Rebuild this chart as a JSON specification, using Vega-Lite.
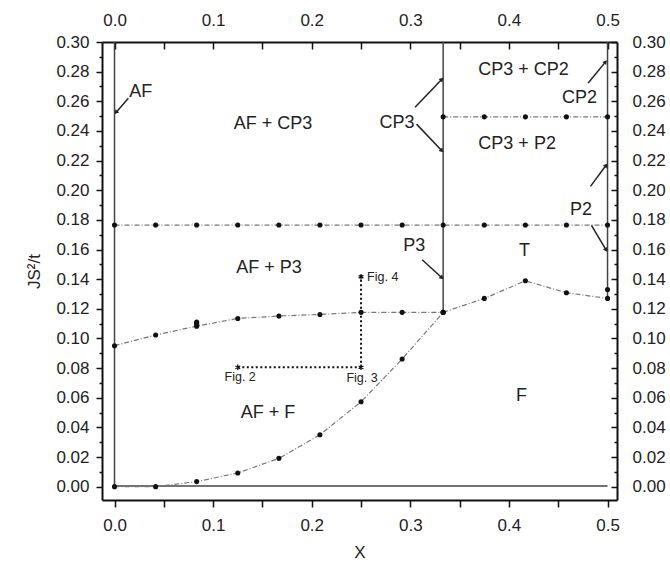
{
  "$schema": "https://vega.github.io/schema/vega-lite/v6.json",
  "width": 515,
  "height": 458,
  "autosize": "none",
  "padding": {"left": 102, "top": 42, "right": 53, "bottom": 64},
  "background": "white",
  "config": {
    "view": {"stroke": null},
    "font": "Liberation Sans",
    "axis": {
      "domainColor": "#111",
      "domainWidth": 2,
      "tickColor": "#111",
      "tickWidth": 1.5,
      "labelColor": "#222",
      "labelFont": "Liberation Sans",
      "labelFontSize": 17,
      "titleFont": "Liberation Sans",
      "titleFontSize": 17,
      "titleFontWeight": "normal",
      "titleColor": "#222",
      "grid": false
    }
  },
  "datasets": {
    "segs": [
      {"s": "v0", "x": 0, "y": 0, "x2": 0, "y2": 0.3},
      {"s": "v1", "x": 0.3333, "y": 0.1176, "x2": 0.3333, "y2": 0.3},
      {"s": "v2", "x": 0.5, "y": 0.127, "x2": 0.5, "y2": 0.3},
      {"s": "h0", "x": 0, "y": 0.0005, "x2": 0.5, "y2": 0.0005}
    ],
    "curves": [
      {"s": "h177", "x": 0, "y": 0.1765},
      {"s": "h177", "x": 0.0417, "y": 0.1765},
      {"s": "h177", "x": 0.0833, "y": 0.1765},
      {"s": "h177", "x": 0.125, "y": 0.1765},
      {"s": "h177", "x": 0.1667, "y": 0.1765},
      {"s": "h177", "x": 0.2083, "y": 0.1765},
      {"s": "h177", "x": 0.25, "y": 0.1765},
      {"s": "h177", "x": 0.2917, "y": 0.1765},
      {"s": "h177", "x": 0.3333, "y": 0.1765},
      {"s": "h177", "x": 0.375, "y": 0.1765},
      {"s": "h177", "x": 0.4167, "y": 0.1765},
      {"s": "h177", "x": 0.4583, "y": 0.1765},
      {"s": "h177", "x": 0.5, "y": 0.1765},
      {"s": "h25", "x": 0.3333, "y": 0.2495},
      {"s": "h25", "x": 0.375, "y": 0.2495},
      {"s": "h25", "x": 0.4167, "y": 0.2495},
      {"s": "h25", "x": 0.4583, "y": 0.2495},
      {"s": "h25", "x": 0.5, "y": 0.2495},
      {"s": "c1", "x": 0, "y": 0.0951},
      {"s": "c1", "x": 0.0417, "y": 0.1023},
      {"s": "c1", "x": 0.0833, "y": 0.1083},
      {"s": "c1", "x": 0.125, "y": 0.1135},
      {"s": "c1", "x": 0.1667, "y": 0.1151},
      {"s": "c1", "x": 0.2083, "y": 0.1162},
      {"s": "c1", "x": 0.25, "y": 0.1176},
      {"s": "c1", "x": 0.2917, "y": 0.1176},
      {"s": "c1", "x": 0.3333, "y": 0.1176},
      {"s": "c2", "x": 0.3333, "y": 0.1176},
      {"s": "c2", "x": 0.375, "y": 0.127},
      {"s": "c2", "x": 0.4167, "y": 0.1389},
      {"s": "c2", "x": 0.4583, "y": 0.1308},
      {"s": "c2", "x": 0.5, "y": 0.127},
      {"s": "c3", "x": 0, "y": 0},
      {"s": "c3", "x": 0.0417, "y": 0},
      {"s": "c3", "x": 0.0833, "y": 0.0034},
      {"s": "c3", "x": 0.125, "y": 0.0092},
      {"s": "c3", "x": 0.1667, "y": 0.0191},
      {"s": "c3", "x": 0.2083, "y": 0.035},
      {"s": "c3", "x": 0.25, "y": 0.0573},
      {"s": "c3", "x": 0.2917, "y": 0.0861},
      {"s": "c3", "x": 0.3333, "y": 0.1176}
    ],
    "extraDots": [
      {"x": 0.0833, "y": 0.111},
      {"x": 0.0833, "y": 0.1095},
      {"x": 0.5, "y": 0.133}
    ],
    "figPath": [
      {"x": 0.125, "y": 0.0805, "x2": 0.25, "y2": 0.0805},
      {"x": 0.25, "y": 0.0805, "x2": 0.25, "y2": 0.1416}
    ],
    "figStars": [
      {"x": 0.125, "y": 0.0805},
      {"x": 0.25, "y": 0.0805},
      {"x": 0.25, "y": 0.1416}
    ],
    "regionLabels": [
      {"label": "AF", "x": 0.0267, "y": 0.266},
      {"label": "AF + CP3", "x": 0.1608, "y": 0.2445},
      {"label": "AF + P3", "x": 0.1567, "y": 0.1477},
      {"label": "AF + F", "x": 0.1557, "y": 0.0497},
      {"label": "CP3 + CP2", "x": 0.4147, "y": 0.281},
      {"label": "CP3 + P2", "x": 0.4083, "y": 0.2315},
      {"label": "CP3", "x": 0.2865, "y": 0.2456},
      {"label": "CP2", "x": 0.4716, "y": 0.2619},
      {"label": "P2", "x": 0.4731, "y": 0.1866},
      {"label": "P3", "x": 0.304, "y": 0.1625},
      {"label": "T", "x": 0.4157, "y": 0.1591},
      {"label": "F", "x": 0.4127, "y": 0.0612}
    ],
    "figLabels": [
      {"label": "Fig. 2", "x": 0.1274, "y": 0.0742},
      {"label": "Fig. 3", "x": 0.251, "y": 0.0731},
      {"label": "Fig. 4", "x": 0.272, "y": 0.1416}
    ],
    "arrows": [
      {"name": "AF", "x": 0.014, "y": 0.262, "x2": 0.0015, "y2": 0.2525},
      {"name": "CP3 upper", "x": 0.3048, "y": 0.256, "x2": 0.332, "y2": 0.2749},
      {"name": "CP3 lower", "x": 0.3063, "y": 0.2446, "x2": 0.332, "y2": 0.2266},
      {"name": "CP2", "x": 0.4804, "y": 0.2724, "x2": 0.498, "y2": 0.2866},
      {"name": "P2 upper", "x": 0.4827, "y": 0.2026, "x2": 0.4985, "y2": 0.2168},
      {"name": "P2 lower", "x": 0.4837, "y": 0.1763, "x2": 0.4985, "y2": 0.1597},
      {"name": "P3", "x": 0.312, "y": 0.1531, "x2": 0.332, "y2": 0.1409}
    ]
  },
  "layer": [
    {
      "data": {"name": "segs"},
      "mark": {"type": "rule", "color": "#444", "strokeWidth": 1.5},
      "encoding": {
        "x": {
          "field": "x", "type": "quantitative",
          "scale": {"domain": [-0.0127, 0.5096], "nice": false, "zero": false},
          "axis": {
            "orient": "bottom",
            "values": [0, 0.05, 0.1, 0.15, 0.2, 0.25, 0.3, 0.35, 0.4, 0.45, 0.5],
            "labelExpr": "abs(datum.value*10-round(datum.value*10))<0.001 ? format(datum.value,'.1f') : ''",
            "tickSize": 7,
            "labelPadding": 10,
            "title": "X",
            "titlePadding": 11
          }
        },
        "y": {
          "field": "y", "type": "quantitative",
          "scale": {"domain": [-0.009, 0.3], "nice": false, "zero": false},
          "axis": {
            "orient": "left",
            "values": [0, 0.02, 0.04, 0.06, 0.08, 0.1, 0.12, 0.14, 0.16, 0.18, 0.2, 0.22, 0.24, 0.26, 0.28, 0.3],
            "format": ".2f",
            "tickSize": 6,
            "labelPadding": 7,
            "title": "JS²/t",
            "titlePadding": 12
          }
        },
        "x2": {"field": "x2"},
        "y2": {"field": "y2"}
      }
    },
    {
      "data": {"name": "curves"},
      "mark": {"type": "line", "color": "#777", "strokeWidth": 1.2, "strokeDash": [5, 2, 1, 2],
               "point": {"color": "#111", "filled": true, "size": 26}},
      "encoding": {
        "x": {
          "field": "x", "type": "quantitative",
          "axis": {
            "orient": "top",
            "values": [0, 0.05, 0.1, 0.15, 0.2, 0.25, 0.3, 0.35, 0.4, 0.45, 0.5],
            "labelExpr": "abs(datum.value*10-round(datum.value*10))<0.001 ? format(datum.value,'.1f') : ''",
            "tickSize": -7,
            "labelPadding": 20,
            "title": null
          }
        },
        "y": {
          "field": "y", "type": "quantitative",
          "axis": {
            "orient": "right",
            "values": [0, 0.02, 0.04, 0.06, 0.08, 0.1, 0.12, 0.14, 0.16, 0.18, 0.2, 0.22, 0.24, 0.26, 0.28, 0.3],
            "format": ".2f",
            "tickSize": -6,
            "labelPadding": 21,
            "title": null
          }
        },
        "detail": {"field": "s"}
      }
    },
    {
      "data": {"name": "extraDots"},
      "mark": {"type": "point", "color": "#111", "filled": true, "size": 26, "opacity": 1},
      "encoding": {
        "x": {"field": "x", "type": "quantitative", "axis": null},
        "y": {
          "field": "y", "type": "quantitative",
          "axis": {
            "orient": "left",
            "values": [0.01, 0.03, 0.05, 0.07, 0.09, 0.11, 0.13, 0.15, 0.17, 0.19, 0.21, 0.23, 0.25, 0.27, 0.29],
            "labels": false, "domain": false, "tickSize": 3, "title": null
          }
        }
      }
    },
    {
      "data": {"name": "figPath"},
      "mark": {"type": "rule", "color": "#111", "strokeWidth": 2, "strokeDash": [2, 2.5]},
      "encoding": {
        "x": {"field": "x", "type": "quantitative", "axis": null},
        "y": {
          "field": "y", "type": "quantitative",
          "axis": {
            "orient": "right",
            "values": [0.01, 0.03, 0.05, 0.07, 0.09, 0.11, 0.13, 0.15, 0.17, 0.19, 0.21, 0.23, 0.25, 0.27, 0.29],
            "labels": false, "domain": false, "tickSize": -3, "title": null
          }
        },
        "x2": {"field": "x2"},
        "y2": {"field": "y2"}
      }
    },
    {
      "data": {"name": "figStars"},
      "mark": {"type": "point", "shape": "M0,-1L0,1M-0.87,-0.5L0.87,0.5M-0.87,0.5L0.87,-0.5", "filled": false, "stroke": "#111", "strokeWidth": 1.3, "size": 30, "opacity": 1},
      "encoding": {
        "x": {"field": "x", "type": "quantitative", "axis": null},
        "y": {"field": "y", "type": "quantitative", "axis": null}
      }
    },
    {
      "data": {"name": "regionLabels"},
      "mark": {"type": "text", "fontSize": 18, "color": "#222", "align": "center", "baseline": "middle", "font": "Liberation Sans"},
      "encoding": {
        "x": {"field": "x", "type": "quantitative", "axis": null},
        "y": {"field": "y", "type": "quantitative", "axis": null},
        "text": {"field": "label"}
      }
    },
    {
      "data": {"name": "figLabels"},
      "mark": {"type": "text", "fontSize": 12.5, "color": "#222", "align": "center", "baseline": "middle", "font": "Liberation Sans"},
      "encoding": {
        "x": {"field": "x", "type": "quantitative", "axis": null},
        "y": {"field": "y", "type": "quantitative", "axis": null},
        "text": {"field": "label"}
      }
    },
    {
      "data": {"name": "arrows"},
      "mark": {"type": "rule", "color": "#222", "strokeWidth": 1.5},
      "encoding": {
        "x": {"field": "x", "type": "quantitative", "axis": null},
        "y": {"field": "y", "type": "quantitative", "axis": null},
        "x2": {"field": "x2"},
        "y2": {"field": "y2"}
      }
    },
    {
      "data": {"name": "arrows"},
      "transform": [
        {"calculate": "atan2((datum.x2-datum.x)*986, (datum.y2-datum.y)*1482)*180/PI", "as": "rot"}
      ],
      "mark": {"type": "point", "shape": "triangle-up", "filled": true, "fill": "#222", "stroke": null, "size": 24, "opacity": 1},
      "encoding": {
        "x": {"field": "x2", "type": "quantitative", "axis": null},
        "y": {"field": "y2", "type": "quantitative", "axis": null},
        "angle": {"field": "rot", "type": "quantitative", "scale": null}
      }
    }
  ],
  "resolve": {"axis": {"x": "independent", "y": "independent"}}
}
